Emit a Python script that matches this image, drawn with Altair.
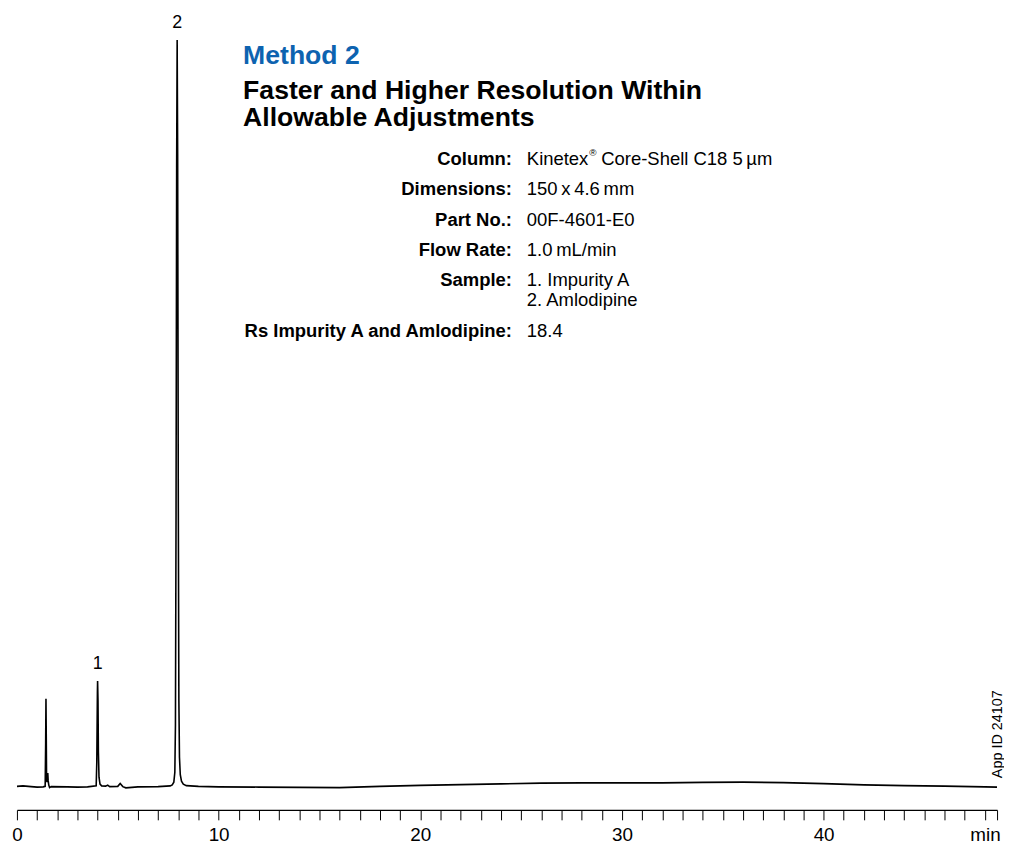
import altair as alt
import pandas as pd

FONT = "Liberation Sans"
BLUE = "#0d63b0"

# Chromatogram trace (retention time in min, detector response in mAU)
time = [0, 0.3, 0.7, 1.0, 1.3, 1.40, 1.425, 1.44, 1.455, 1.47, 1.49, 1.53, 1.55, 1.58, 1.62, 1.7,
        2.5, 3.0, 3.5, 3.93, 3.96, 3.99, 4.0, 4.02, 4.04, 4.07, 4.12, 4.2, 4.4, 4.5, 4.6,
        5.0, 5.12, 5.25, 5.4, 6.0, 7.0, 7.6, 7.7, 7.78, 7.83, 7.86, 7.89, 7.92, 7.945, 7.97,
        8.0, 8.03, 8.06, 8.1, 8.16, 8.25, 8.4, 9, 10, 12, 14, 16, 18, 20, 22, 24, 26, 28,
        30, 32, 34, 36, 38, 40, 42, 44, 46, 48, 48.6]
signal = [0.3, 0.5, 0.2, 0.0, 0.1, 0.3, 18, 35.6, 20, 3, 2, 5.7, 2.5, 0.8, -0.2, 0.2,
          0.1, 0.0, 0.1, 0.5, 10, 38, 42.8, 35, 14, 4, 1.2, 0.5, 0.4, 0.8, 0.2,
          0.3, 1.5, 0.2, -0.3, 0.1, 0.2, 0.5, 0.9, 2.0, 6, 25, 110, 250, 301.2, 255,
          120, 35, 12, 5, 2.4, 1.2, 0.6, 0.3, 0.1, 0.0, -0.1, -0.2, 0.3, 0.7, 1.0, 1.3, 1.6, 1.7,
          1.7, 1.7, 1.9, 2.0, 1.8, 1.4, 0.9, 0.6, 0.4, 0.1, 0.0]

# Peak labels
peak_names = ["1", "2"]
peak_time = [4.0, 7.945]
peak_height = [49.6, 308.0]

# Method information
info_labels = ["Column:", "Dimensions:", "Part No.:", "Flow Rate:", "Sample:", "", "Rs Impurity A and Amlodipine:"]
info_values = ["", "150\u2009x\u20094.6\u2009mm", "00F-4601-E0", "1.0\u2009mL/min", "1. Impurity A", "2. Amlodipine", "18.4"]
column_parts = ["Kinetex", "\u00ae", "Core-Shell C18 5\u2009\u00b5m"]

tick_values = list(range(0, 49)) + [48.6]

trace = pd.DataFrame({"time": time, "signal": signal})
peaks = pd.DataFrame({"name": peak_names, "time": peak_time, "height": peak_height})
dummy = pd.DataFrame({"a": [0]})

xscale = alt.Scale(domain=[0, 48.6], nice=False, zero=False)
yscale = alt.Scale(domain=[-9.2, 312.8], nice=False, zero=False)
xaxis = alt.Axis(values=tick_values, tickSize=10, tickWidth=1, tickColor="black",
                 domainColor="black", domainWidth=1.2, grid=False, labelOverlap=False,
                 labelFlush=False, labelBound=False,
                 labelFont=FONT, labelFontSize=19, labelColor="black", labelPadding=6,
                 labelExpr="datum.value == 48 ? 'min' : (datum.value % 10 == 0 ? datum.label : '')")

line = alt.Chart(trace).mark_line(color="black", strokeWidth=1.6, clip=True).encode(
    x=alt.X("time:Q", scale=xscale, title=None, axis=xaxis),
    y=alt.Y("signal:Q", scale=yscale, axis=None),
)

plabels = alt.Chart(peaks).mark_text(font=FONT, fontSize=18, color="black", baseline="middle").encode(
    x=alt.X("time:Q", scale=xscale, title=None, axis=xaxis),
    y=alt.Y("height:Q", scale=yscale, axis=None),
    text="name:N",
)


def txt(s, x, y, size=18.6, bold=False, align="left", color="black", baseline="middle", angle=None):
    kw = dict(text=s, font=FONT, fontSize=size, fontWeight="bold" if bold else "normal",
              align=align, baseline=baseline, color=color)
    if angle is not None:
        kw["angle"] = angle
    return alt.Chart(dummy).mark_text(**kw).encode(x=alt.value(x), y=alt.value(y))


layers = [line, plabels]
OX, OY = 17, 8
layers.append(txt("Method 2", 245 - OX, 61 - OY, size=26.8, bold=True, color=BLUE, baseline="alphabetic"))
layers.append(txt("Faster and Higher Resolution Within", 245 - OX, 96 - OY, size=26.8, bold=True, baseline="alphabetic"))
layers.append(txt("Allowable Adjustments", 245 - OX, 124 - OY, size=26.8, bold=True, baseline="alphabetic"))

row_y = [157, 187, 218, 249, 279, 299, 330]
for lab, val, yy in zip(info_labels, info_values, row_y):
    if lab:
        layers.append(txt(lab, 516 - OX, yy - OY, bold=True, align="right"))
    if val:
        layers.append(txt(val, 531 - OX, yy - OY))

# Column row with superscript registered mark
layers.append(txt(column_parts[0], 531 - OX, 157 - OY))
layers.append(txt(column_parts[1], 531 - OX + 63, 151 - OY, size=10))
layers.append(txt(column_parts[2], 531 - OX + 75, 157 - OY))

layers.append(txt("App ID 24107", 1010 - OX, 781 - OY, size=14.5, angle=270, baseline="alphabetic"))

chart = alt.layer(*layers).properties(
    width=988, height=805,
    autosize=alt.AutoSizeParams(type="none"),
    padding={"left": 9, "right": 7, "top": 0, "bottom": 33},
).configure_view(stroke=None)

chart.save("out.html", embed_options={"renderer": "svg", "actions": False})
